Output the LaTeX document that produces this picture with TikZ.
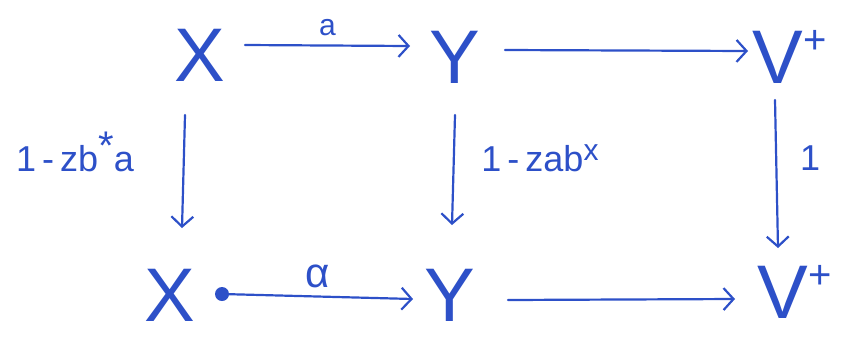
\documentclass[tikz,border=0pt]{standalone}
\usepackage{fontspec}
\setmainfont{Liberation Sans}
\usetikzlibrary{arrows.meta}
\definecolor{pen}{RGB}{45,80,200}
\begin{document}
\begin{tikzpicture}[x=1pt,y=-1pt,
  obj/.style={text=pen,inner sep=0pt,font=\fontsize{76}{76}\selectfont},
  lab/.style={text=pen,inner sep=0pt,font=\fontsize{36}{36}\selectfont},
  arr/.style={draw=pen,line width=2.2pt,line cap=round,-{Straight Barb[length=10pt,width=22pt,line width=2.2pt]}}]
\useasboundingbox (0,0) rectangle (842,349);
\newcommand{\plus}{\raisebox{0.4em}{\fontsize{40}{40}\selectfont +}}
\node[obj] (X1) at (200,55) {X};
\node[obj] (Y1) at (455,57) {Y};
\node[obj] (V1) at (790,57) {V\plus};
\node[obj] (X2) at (170,295) {X};
\node[obj] (Y2) at (450,295) {Y};
\node[obj] (V2) at (795,292) {V\plus};
% horizontal arrows
\coordinate (a1) at (245,45); \coordinate (a2) at (410,46);
\draw[arr] (a1) -- node[lab,above=9pt,font=\fontsize{30}{30}\selectfont] (la) {a} (a2);
\coordinate (b1) at (505,50); \coordinate (b2) at (748,51);
\draw[arr] (b1) -- (b2);
\coordinate (c1) at (222,294); \coordinate (c2) at (413,299);
\draw[arr] (c1) -- node[lab,above=7pt,font=\fontsize{42}{42}\selectfont] (lc) {α} (c2);
\fill[pen] (c1) circle (7pt);
\coordinate (d1) at (508,300); \coordinate (d2) at (735,299);
\draw[arr] (d1) -- (d2);
% vertical arrows
\coordinate (e1) at (185,115); \coordinate (e2) at (182,228);
\draw[arr] (e1) -- (e2);
\node[lab] (le) at (75,152) {1\,-\,zb\raisebox{0.35em}{\fontsize{40}{40}\selectfont *}a};
\coordinate (f1) at (455,115); \coordinate (f2) at (452,225);
\draw[arr] (f1) -- (f2);
\node[lab] (lf) at (540,158) {1\,-\,zab\raisebox{0.3em}{\fontsize{30}{30}\selectfont x}};
\coordinate (g1) at (775,100); \coordinate (g2) at (778,248);
\draw[arr] (g1) -- (g2);
\node[lab] (lg) at (810,158) {1};
\end{tikzpicture}
\end{document}
